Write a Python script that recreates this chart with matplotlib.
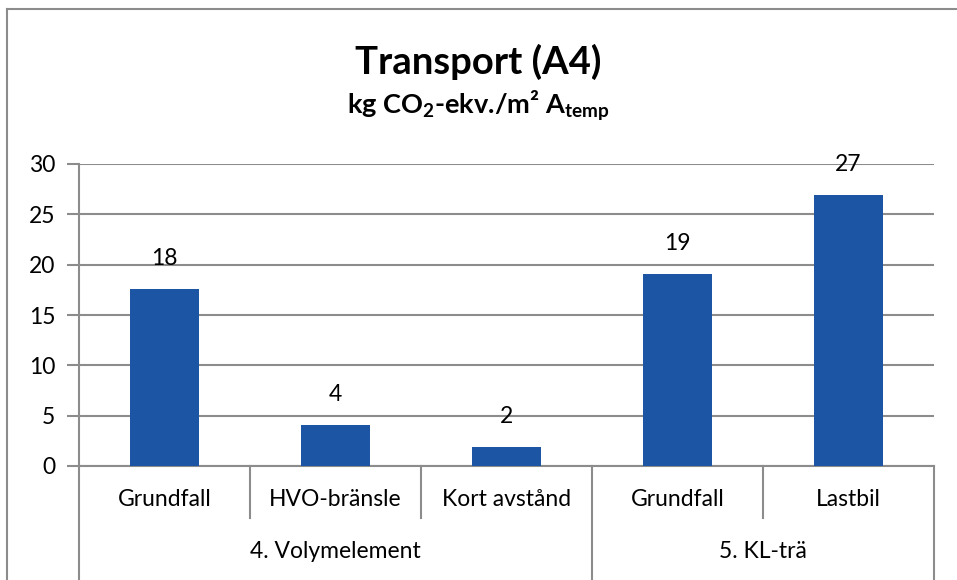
import matplotlib
matplotlib.use("Agg")
import matplotlib.pyplot as plt
from matplotlib.lines import Line2D

plt.rcParams['font.family'] = ['Lato', 'DejaVu Sans']

categories = ["Grundfall", "HVO-bränsle", "Kort avstånd", "Grundfall", "Lastbil"]
groups = ["4. Volymelement", "5. KL-trä"]
group_sizes = [3, 2]
values = [17.6, 4.1, 1.9, 19.1, 26.9]
value_labels = ["18", "4", "2", "19", "27"]

bar_color = "#1D55A5"
grid_color = "#8C8C8C"
fs = 16.5

fig = plt.figure(figsize=(9.57, 5.80), dpi=100)
W, H = 957, 580
ax = fig.add_axes([79 / W, 1 - 466 / H, (934 - 79) / W, (466 - 164) / H])

x = list(range(len(categories)))
ax.bar(x, values, width=0.4, color=bar_color, zorder=3)
ax.set_xlim(-0.5, len(categories) - 0.5)
ax.set_ylim(0, 30)
ax.set_yticks(range(0, 31, 5))
ax.yaxis.grid(True, color=grid_color, linewidth=1.5, zorder=0)
ax.set_xticks([])
for s in ["top", "right"]:
    ax.spines[s].set_visible(False)
ax.spines["left"].set_color(grid_color)
ax.spines["left"].set_linewidth(1.5)
ax.spines["bottom"].set_color(grid_color)
ax.spines["bottom"].set_linewidth(1.5)
ax.tick_params(axis="y", length=9, width=1.5, color=grid_color, labelsize=fs, pad=8)

for xi, v, lab in zip(x, values, value_labels):
    ax.annotate(lab, (xi, v), xytext=(0, 22), textcoords="offset points",
                ha="center", va="center", fontsize=fs, color="black")

trans = ax.get_xaxis_transform()
inner_bottom = -(518 - 466) / 302
outer_bottom = -(582 - 466) / 302

bounds = [-0.5]
acc = -0.5
for gs in group_sizes:
    acc += gs
    bounds.append(acc)
for b in [i - 0.5 for i in range(len(categories) + 1)]:
    bottom = outer_bottom if b in bounds else inner_bottom
    ax.add_line(Line2D([b, b], [0, bottom], transform=trans, color=grid_color,
                       linewidth=1.5, clip_on=False))

for xi, c in zip(x, categories):
    ax.text(xi, -(500 - 466) / 302, c, transform=trans, ha="center", va="center",
            fontsize=fs)

start = 0
for g, gs in zip(groups, group_sizes):
    center = start + (gs - 1) / 2
    ax.text(center, -(551 - 466) / 302, g, transform=trans, ha="center", va="center",
            fontsize=fs)
    start += gs

fig.add_artist(Line2D([7 / W, 7 / W], [0, 1 - 8.5 / H], transform=fig.transFigure,
                      color="#8C8C8C", linewidth=1.5))
fig.add_artist(Line2D([7 / W, 1], [1 - 8.5 / H, 1 - 8.5 / H], transform=fig.transFigure,
                      color="#8C8C8C", linewidth=1.5))

fig.text(0.5, 1 - 62 / H, "Transport (A4)", ha="center", va="center",
         fontsize=27.5, fontweight="bold")
fig.text(0.5, 1 - 106 / H, r"kg CO$_\mathregular{2}$-ekv./m² A$_\mathregular{temp}$",
         ha="center", va="center", fontsize=19.5, fontweight="bold")

fig.savefig("out.png", dpi=100)
